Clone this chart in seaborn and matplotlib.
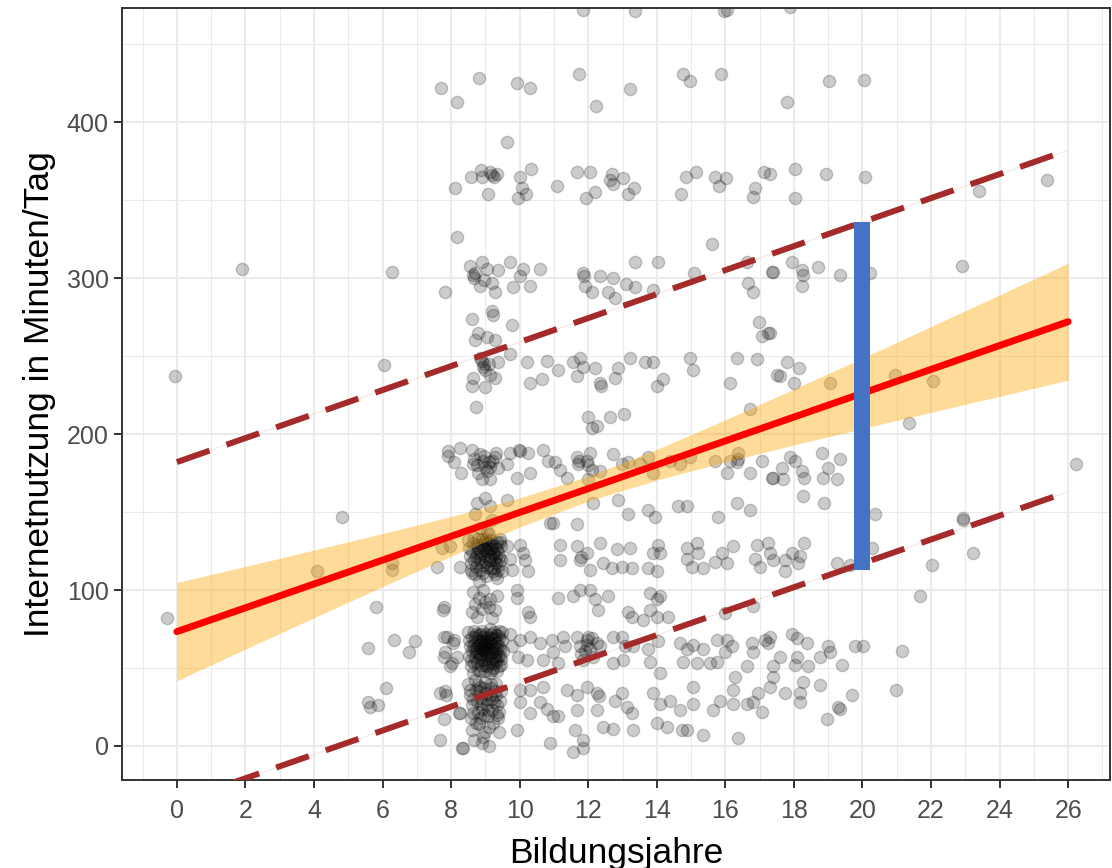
import matplotlib
matplotlib.use('Agg')
import numpy as np
import pandas as pd
import matplotlib.pyplot as plt
from matplotlib.ticker import MultipleLocator
import seaborn as sns


# Data (Bildungsjahre, Internetnutzung), grouped by band

pts_480 = [(7.6, 478), (9.3, 477), (11.0, 477), (11.85, 472), (12.6, 478),
           (13.35, 471), (15.95, 471), (16.05, 472), (17.9, 474)]

pts_420 = [(7.7, 422), (8.17, 413), (8.81, 428), (9.92, 425), (10.3, 422),
           (11.73, 431), (12.23, 410), (13.22, 421), (14.76, 431), (14.97, 426),
           (15.87, 431), (17.8, 413), (19.03, 426), (20.05, 427), (9.63, 387)]

pts_360 = [(8.11, 358), (8.58, 365), (8.87, 369), (8.9, 365), (9.13, 368),
           (9.2, 366), (9.25, 365), (9.34, 367), (9.07, 354), (10.0, 365),
           (10.07, 358), (9.95, 351), (10.18, 354), (10.33, 370), (11.09, 359),
           (11.67, 368), (12.05, 368), (11.93, 351), (12.2, 355), (12.69, 367),
           (12.63, 363), (12.72, 360), (13.01, 364), (13.16, 354), (13.34, 358),
           (14.71, 354), (14.85, 365), (15.14, 368), (15.7, 365), (16.02, 364),
           (15.82, 359), (16.87, 358), (16.81, 352), (17.13, 368), (17.3, 367),
           (18.03, 370), (18.94, 367), (20.08, 365), (18.03, 351), (23.4, 356),
           (25.39, 363), (8.17, 326)]

pts_300 = [(1.9, 306), (6.27, 304), (7.82, 291), (8.55, 308), (8.64, 302),
           (8.66, 300), (8.9, 310), (8.84, 295), (9.19, 297), (9.28, 291),
           (9.37, 305), (9.72, 310), (10.01, 301), (10.1, 306), (10.3, 295),
           (9.8, 294), (10.59, 306), (11.85, 303), (11.88, 301), (11.91, 295),
           (12.11, 291), (12.34, 301), (12.58, 291), (12.72, 300), (12.78, 287),
           (13.1, 296), (13.36, 294), (13.36, 310), (13.89, 292), (14.04, 310),
           (15.09, 303), (16.63, 310), (16.66, 297), (16.81, 291), (17.36, 304),
           (17.39, 304), (17.95, 310), (18.24, 305), (18.27, 302), (18.24, 295),
           (18.7, 307), (19.35, 302), (20.22, 303), (22.9, 308), (15.6, 322),
           (8.7, 303), (9.05, 306), (8.95, 299)]

pts_240 = [(6.04, 244), (-0.06, 237), (8.61, 274), (8.78, 265), (9.22, 276),
           (9.19, 279), (9.78, 270), (8.7, 260), (9.04, 262), (9.28, 260),
           (8.9, 247), (8.95, 245), (8.93, 243), (9.13, 238), (9.28, 236),
           (9.37, 246), (8.64, 236), (8.61, 231), (8.99, 230), (8.73, 217),
           (9.72, 251), (10.21, 246), (10.3, 233), (10.65, 235), (10.8, 247),
           (11.12, 241), (11.56, 246), (11.76, 249), (11.85, 243), (11.67, 237),
           (12.2, 242), (12.34, 233), (12.37, 231), (12.78, 236), (12.87, 242),
           (13.22, 249), (13.66, 246), (13.89, 246), (14.0, 231), (14.18, 235),
           (14.97, 249), (15.06, 241), (16.34, 249), (16.14, 233), (16.92, 248),
           (16.98, 272), (17.07, 263), (17.25, 265), (17.51, 238), (11.99, 211),
           (12.11, 204), (12.26, 205), (12.63, 211), (13.04, 213), (16.72, 216),
           (17.8, 246), (18.15, 242), (17.6, 237), (18.0, 233), (19.05, 233),
           (17.3, 265), (20.95, 238), (22.06, 234), (21.36, 207),
           (8.85, 249), (9.0, 241), (9.1, 245)]

pts_180 = [(7.9, 189), (8.08, 182), (8.26, 191), (8.29, 175), (8.61, 190),
           (8.64, 181), (8.68, 184), (8.78, 175), (8.93, 183), (8.97, 186),
           (9.13, 179), (9.1, 182), (9.28, 185), (9.3, 188), (9.37, 178),
           (8.9, 171), (9.13, 171), (9.63, 181), (9.72, 188), (9.92, 172),
           (9.98, 190), (10.02, 189), (10.24, 188), (10.3, 175), (10.68, 190),
           (10.83, 183), (11.03, 182), (11.18, 177), (11.38, 172), (11.67, 185),
           (11.7, 181), (11.73, 183), (11.96, 183), (11.99, 180), (12.11, 177),
           (12.05, 188), (12.34, 176), (11.99, 171), (12.72, 187), (12.98, 181),
           (13.16, 182), (13.51, 181), (13.74, 185), (13.89, 175), (14.39, 183),
           (14.68, 181), (14.97, 185), (15.7, 183), (16.05, 175), (16.14, 183),
           (16.34, 182), (16.37, 184), (16.37, 188), (16.72, 175), (17.07, 183),
           (17.36, 172), (17.89, 185), (18.03, 183), (17.65, 178), (17.39, 172),
           (17.68, 171), (18.24, 176), (18.3, 172), (18.82, 188), (19.35, 184),
           (18.85, 172), (19.0, 178), (19.26, 171), (18.27, 160), (18.88, 156),
           (20.37, 149), (22.94, 146), (26.23, 181), (7.9, 186),
           (8.75, 180), (9.05, 176), (9.2, 183), (8.85, 187), (9.0, 179)]

pts_150 = [(4.81, 147), (8.75, 156), (8.99, 159), (9.13, 154), (9.63, 158),
           (8.7, 149), (12.14, 156), (12.87, 158), (13.16, 149), (13.74, 151),
           (13.95, 147), (14.62, 154), (14.88, 154), (15.79, 147), (16.34, 156),
           (16.72, 151), (10.88, 143), (10.97, 143), (11.67, 142), (8.85, 140),
           (9.2, 145), (9.05, 137), (22.94, 145)]

pts_120 = [(4.09, 112), (6.27, 117), (6.27, 113), (7.59, 115), (7.73, 127),
           (7.97, 128), (8.26, 115), (9.63, 128), (9.72, 120), (9.78, 113),
           (10.0, 129), (10.15, 119), (10.24, 112), (10.1, 124), (11.18, 129),
           (11.18, 119), (11.67, 128), (11.76, 119), (11.8, 121), (11.96, 124),
           (12.05, 113), (12.34, 130), (12.43, 117), (12.69, 114), (12.84, 126),
           (12.98, 115), (13.22, 127), (13.28, 114), (13.74, 114), (13.89, 124),
           (14.09, 124), (14.04, 129), (14.0, 112), (14.88, 127), (14.88, 120),
           (15.17, 130), (15.2, 124), (15.35, 114), (15.03, 115), (15.7, 118),
           (15.9, 124), (16.05, 117), (16.22, 128), (16.92, 129), (16.87, 120),
           (17.25, 130), (17.3, 124), (17.39, 119), (17.01, 115), (17.74, 119),
           (17.74, 112), (17.95, 124), (18.12, 117), (18.18, 122), (18.3, 130),
           (19.26, 117), (19.64, 116), (20.28, 127), (22.03, 116), (23.23, 124),
           # dense block at 9 years
           (8.5, 132), (8.62, 125), (8.58, 117), (8.7, 110), (8.75, 129),
           (8.8, 120), (8.85, 113), (8.9, 133), (8.95, 126), (9.0, 118),
           (9.02, 109), (9.08, 130), (9.12, 122), (9.15, 114), (9.2, 127),
           (9.25, 119), (9.28, 110), (9.33, 131), (9.38, 124), (9.4, 116),
           (9.45, 128), (9.48, 112), (8.55, 122), (8.68, 134), (9.1, 136),
           (8.82, 106), (9.35, 108), (9.05, 125), (8.72, 121), (8.92, 116),
           (9.18, 129), (9.3, 121), (8.6, 111), (9.42, 133), (8.98, 131),
           (9.22, 112), (8.78, 127), (9.1, 119),
           (8.52, 127), (8.57, 113), (8.64, 130), (8.66, 119), (8.73, 115),
           (8.77, 133), (8.83, 125), (8.87, 118), (8.91, 129), (8.94, 111),
           (8.97, 122), (9.03, 133), (9.06, 115), (9.09, 127), (9.14, 119),
           (9.17, 132), (9.21, 123), (9.24, 114), (9.27, 128), (9.31, 117),
           (9.34, 126), (9.37, 113), (9.41, 121), (9.44, 131), (9.47, 119),
           (8.88, 123), (9.0, 127), (9.13, 126), (9.26, 124), (8.76, 124)]

pts_90 = [(-0.3, 82), (5.81, 89), (7.76, 87), (7.78, 89), (8.64, 99),
          (8.93, 100), (9.13, 94), (9.34, 96), (8.61, 86), (8.9, 88),
          (9.28, 87), (8.75, 83), (9.19, 82), (9.0, 92), (8.8, 95),
          (9.92, 100), (9.92, 95), (10.24, 86), (10.3, 83), (11.12, 95),
          (11.56, 96), (11.76, 100), (12.05, 100), (12.2, 94), (12.28, 87),
          (12.58, 96), (13.16, 86), (13.28, 83), (13.6, 81), (13.8, 98),
          (14.0, 94), (14.09, 96), (13.8, 87), (14.0, 83), (14.33, 83),
          (15.99, 85), (16.81, 90), (21.68, 96), (9.1, 89), (8.7, 91)]

pts_60 = [(5.57, 63), (6.33, 68), (6.77, 60), (6.94, 67), (7.79, 70),
          (8.08, 68), (7.79, 57), (8.02, 53), (7.88, 70), (8.05, 66),
          (7.82, 60), (8.17, 57), (7.97, 51),
          # dense block at 9 years
          (8.5, 73), (8.6, 70), (8.55, 64), (8.52, 58), (8.58, 51), (8.65, 47),
          (8.68, 74), (8.7, 66), (8.72, 60), (8.75, 54), (8.78, 49), (8.8, 71),
          (8.83, 63), (8.85, 57), (8.88, 52), (8.9, 74), (8.92, 68), (8.95, 61),
          (8.97, 55), (9.0, 48), (9.02, 72), (9.05, 65), (9.07, 59), (9.1, 53),
          (9.12, 75), (9.15, 69), (9.17, 62), (9.2, 56), (9.22, 50), (9.25, 73),
          (9.27, 66), (9.3, 60), (9.32, 54), (9.35, 48), (9.37, 71), (9.4, 64),
          (9.42, 58), (9.45, 52), (9.48, 68), (9.5, 61), (8.62, 61), (8.98, 66),
          (9.18, 49), (8.86, 67), (9.33, 63), (8.74, 72), (9.06, 51),
          (8.53, 68), (8.57, 55), (8.63, 65), (8.66, 53), (8.69, 70), (8.71, 57),
          (8.76, 63), (8.79, 68), (8.81, 59), (8.84, 48), (8.87, 72), (8.89, 62),
          (8.91, 56), (8.94, 70), (8.96, 64), (8.99, 52), (9.01, 67), (9.03, 60),
          (9.04, 56), (9.08, 70), (9.09, 63), (9.11, 58), (9.13, 47), (9.14, 66),
          (9.16, 72), (9.19, 60), (9.21, 53), (9.24, 69), (9.26, 62), (9.28, 57),
          (9.31, 71), (9.34, 66), (9.36, 58), (9.39, 51), (9.41, 69), (9.44, 62),
          (9.46, 56), (9.49, 73), (8.9, 59), (9.0, 63), (9.1, 67), (9.2, 64),
          (8.8, 65), (8.7, 62), (9.3, 55), (9.4, 74),
          (9.72, 72), (9.78, 64), (10.0, 68), (9.95, 57), (10.21, 55),
          (10.3, 70), (10.59, 66), (10.68, 55), (10.94, 68), (10.97, 60),
          (11.26, 70), (11.32, 64), (11.12, 53), (11.67, 70), (11.76, 64),
          (11.96, 68), (12.05, 62), (12.26, 66), (11.85, 55), (12.14, 57),
          (12.34, 64), (11.9, 61), (12.0, 70), (11.8, 59), (12.72, 70),
          (12.98, 70), (13.07, 64), (12.72, 53), (13.01, 55), (13.31, 64),
          (13.74, 62), (13.8, 54), (14.04, 67), (14.09, 47), (14.68, 66),
          (14.88, 62), (15.06, 65), (15.35, 62), (14.76, 54), (15.17, 53),
          (15.55, 53), (15.76, 68), (16.05, 68), (15.99, 60), (15.76, 54),
          (16.19, 64), (16.78, 66), (16.81, 60), (17.16, 68), (17.25, 66),
          (16.63, 51), (17.39, 51), (17.39, 44), (17.3, 70), (17.95, 72),
          (18.09, 69), (18.38, 66), (17.6, 57), (18.09, 57), (18.03, 52),
          (18.41, 51), (18.76, 57), (19.0, 64), (19.05, 60), (19.4, 52),
          (19.78, 64), (20.02, 64), (21.16, 61), (11.95, 65), (12.1, 69)]

pts_30 = [(6.1, 37), (5.57, 28), (5.63, 25), (5.87, 26), (7.82, 35),
          (7.85, 33), (7.79, 17), (7.67, 4), (8.23, 21), (8.32, -1),
          (7.67, 34), (8.26, 21),
          # dense block at 9 years
          (8.5, 40), (8.55, 33), (8.6, 26), (8.58, 18), (8.62, 10), (8.7, 42),
          (8.72, 36), (8.75, 29), (8.78, 22), (8.8, 14), (8.85, 38), (8.88, 31),
          (8.9, 24), (8.92, 6), (9.0, 41), (9.02, 34), (9.05, 27), (9.08, 19),
          (9.1, 12), (9.15, 37), (9.18, 30), (9.2, 23), (9.22, 15), (9.3, 40),
          (9.32, 33), (9.35, 26), (9.38, 18), (9.4, 9), (9.45, 35), (8.9, 2),
          (9.1, 0), (8.68, 4), (8.65, 30), (8.82, 35), (8.95, 20), (9.12, 33),
          (9.25, 28), (9.4, 22), (8.72, 15), (9.0, 9),
          (8.54, 36), (8.63, 21), (8.77, 39), (8.86, 27), (8.97, 37), (9.07, 23),
          (9.16, 40), (9.27, 35), (9.33, 20), (9.43, 29), (8.84, 18), (9.03, 30),
          (10.0, 36), (10.0, 28), (10.3, 36), (10.3, 21), (10.59, 28),
          (10.8, 24), (10.97, 19), (11.12, 19), (10.68, 38), (11.38, 36),
          (11.67, 33), (11.67, 23), (11.96, 38), (12.26, 34), (12.26, 23),
          (12.3, 32), (12.78, 29), (12.98, 34), (13.13, 25), (13.28, 21),
          (12.43, 12), (12.72, 11), (13.31, 10), (13.89, 34), (14.09, 27),
          (14.39, 29), (14.68, 23), (15.06, 27), (15.06, 38), (14.0, 15),
          (14.3, 12), (14.73, 10), (14.88, 10), (15.35, 7), (15.64, 23),
          (15.84, 29), (16.22, 27), (16.28, 44), (16.22, 36), (16.63, 27),
          (16.81, 28), (16.95, 34), (17.07, 22), (17.3, 38), (16.37, 5),
          (10.88, 2), (11.56, -4), (11.85, 4), (11.85, -1), (11.61, 10),
          (9.92, 10), (8.35, -1), (17.74, 34), (18.18, 34), (18.18, 28),
          (18.27, 41), (18.76, 39), (19.29, 25), (19.35, 24), (19.7, 33),
          (18.97, 17), (20.98, 36)]

# Regression line, confidence band and prediction interval
fit_x = [0, 26]
fit_y = [73.3, 272.0]

ci_x     = [0, 2, 4, 6, 8, 10, 12, 14, 16, 18, 20, 22, 24, 26]
ci_lower = [41.8, 62.1, 82.2, 102.2, 121.7, 140.4, 157.0, 170.5, 182.1, 193.0, 203.5, 213.9, 224.2, 234.5]
ci_upper = [104.8, 115.1, 125.6, 136.2, 147.1, 159.0, 173.0, 190.1, 209.1, 228.8, 248.7, 268.9, 289.2, 309.5]

pi_x     = [0, 26]
pi_upper = [182.0, 382.0]
pi_lower = [-36.0, 163.0]

# Prediction interval at 20 years
bar_x    = 20
bar_low  = 113
bar_high = 336

X_TICKS = list(range(0, 27, 2))
Y_TICKS = [0, 100, 200, 300, 400]


# Build dataframe

bands = [pts_480, pts_420, pts_360, pts_300, pts_240, pts_180,
         pts_150, pts_120, pts_90, pts_60, pts_30]
rows = [p for band in bands for p in band]
df = pd.DataFrame(rows, columns=['bildung', 'internet'])


# Plot

sns.set_theme(style='white')
plt.rcParams['font.family'] = ['Liberation Sans', 'DejaVu Sans']

fig = plt.figure(figsize=(11.12, 8.68), dpi=100)
ax = fig.add_axes([122 / 1112, 1 - 780 / 868, (1110 - 122) / 1112, (780 - 8) / 868])

# grid (theme_bw look)
ax.set_axisbelow(True)
ax.xaxis.set_major_locator(MultipleLocator(2))
ax.xaxis.set_minor_locator(MultipleLocator(1))
ax.yaxis.set_major_locator(MultipleLocator(100))
ax.yaxis.set_minor_locator(MultipleLocator(50))
ax.grid(True, which='major', color='#EBEBEB', lw=1.5)
ax.grid(True, which='minor', color='#EBEBEB', lw=0.75)

sns.scatterplot(data=df, x='bildung', y='internet', color='black',
                alpha=0.2, s=78, edgecolor='black', linewidth=1.0,
                ax=ax, zorder=2)

ax.fill_between(ci_x, ci_lower, ci_upper, color='orange', alpha=0.4,
                lw=0, zorder=3)

sns.lineplot(x=fit_x, y=fit_y, color='red', lw=5, ax=ax, zorder=4)

for pi in (pi_upper, pi_lower):
    # faint hairline between the dashes, as in the original rendering
    sns.lineplot(x=pi_x, y=pi, color='#A52A2A', lw=0.6, alpha=0.15,
                 ax=ax, zorder=4)
    sns.lineplot(x=pi_x, y=pi, color='#A52A2A', lw=4.3,
                 linestyle=(0, (5.8, 3.0)), ax=ax, zorder=4)

ax.vlines(bar_x, bar_low, bar_high, color='#4472C4', lw=11.5, zorder=5)

ax.set_xlim(-1.6, 27.22)
ax.set_ylim(-21.8, 473.1)
ax.set_xticks(X_TICKS)
ax.set_yticks(Y_TICKS)

for side in ax.spines.values():
    side.set_color('#333333')
    side.set_linewidth(1.4)

ax.tick_params(axis='both', which='major', length=5.5, width=1.4,
               color='#333333', labelsize=18, labelcolor='#4D4D4D',
               bottom=True, left=True)
ax.tick_params(axis='x', which='major', pad=8)
ax.tick_params(axis='y', which='major', pad=4)
ax.tick_params(axis='both', which='minor', length=0)

ax.set_xlabel('Bildungsjahre', fontsize=25.5, color='black', labelpad=10)
ax.set_ylabel('Internetnutzung in Minuten/Tag', fontsize=25.5, color='black', labelpad=8)

fig.savefig('out.png', dpi=100)
